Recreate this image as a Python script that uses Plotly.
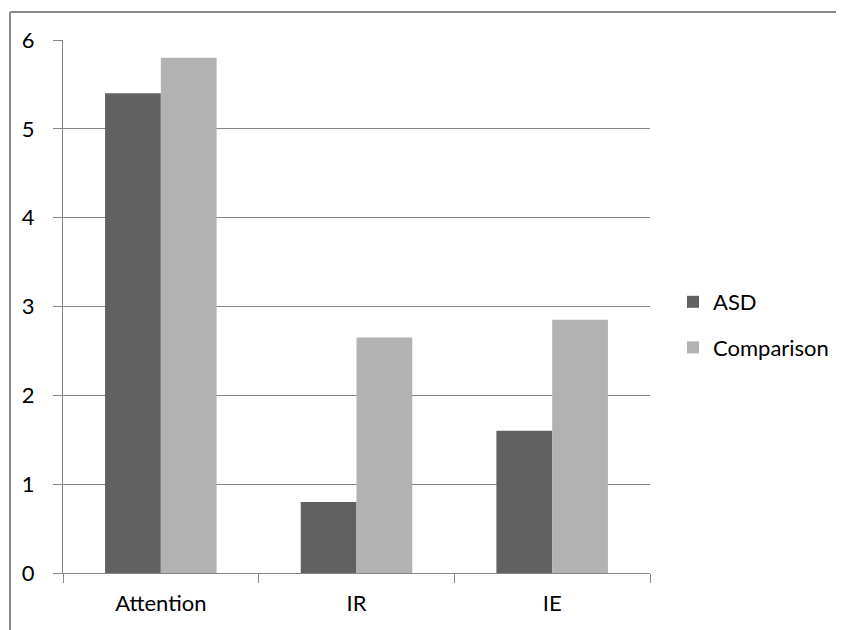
import plotly.graph_objects as go

categories = ["Attention", "IR", "IE"]
asd = [5.4, 0.8, 1.6]
comparison = [5.8, 2.65, 2.85]
y_ticks = [0, 1, 2, 3, 4, 5, 6]

OFF = 8  # default page body margin
W, H = 844 - OFF, 630 - OFF
L, R, T, B = 63 - OFF, 650 - OFF, 40 - OFF, 573 - OFF

def px_x(p):
    return (p - OFF - L) / (R - L)

def px_y(p):
    return (B - (p - OFF)) / (B - T)

font = dict(family="Lato, 'Open Sans', sans-serif", size=22, color="#000000")
grid = "#868686"
border = dict(color="#8a8a8a", width=2)

fig = go.Figure()
fig.add_trace(go.Bar(name="ASD", x=categories, y=asd, legendgroup="a",
                     marker=dict(color="#616161", line=dict(width=0))))
fig.add_trace(go.Bar(name="Comparison", x=categories, y=comparison, legendgroup="b",
                     marker=dict(color="#b2b2b2", line=dict(width=0))))

fig.update_layout(
    width=W, height=H,
    margin=dict(l=L, r=W - R, t=T, b=H - B, pad=0, autoexpand=False),
    paper_bgcolor="white", plot_bgcolor="white",
    barmode="group", bargap=0.43, bargroupgap=0,
    font=font,
    showlegend=True,
    legend=dict(xref="container", yref="container",
                x=(673 - OFF) / W, y=1 - (325 - OFF) / H, xanchor="left", yanchor="middle",
                font=font, bgcolor="rgba(0,0,0,0)", itemsizing="constant",
                traceorder="grouped", tracegroupgap=14),
    shapes=[
        dict(type="line", xref="paper", yref="paper",
             x0=px_x(10), x1=px_x(850), y0=px_y(12), y1=px_y(12), line=border),
        dict(type="line", xref="paper", yref="paper",
             x0=px_x(10), x1=px_x(10), y0=px_y(12), y1=px_y(640), line=border),
    ],
)
fig.update_xaxes(
    type="category", tickson="boundaries", ticks="outside", ticklen=9,
    tickcolor=grid, tickwidth=1.3, showline=True, linecolor=grid, linewidth=1.3,
    showgrid=False, ticklabelstandoff=10, tickfont=font, automargin=False,
)
fig.update_yaxes(
    range=[0, 6], tickvals=y_ticks, ticks="outside", ticklen=9, tickcolor=grid,
    tickwidth=1.3, showline=True, linecolor=grid, linewidth=1.3,
    showgrid=True, gridcolor=grid, gridwidth=1.3, zeroline=False,
    ticklabelstandoff=14, tickfont=font, automargin=False,
)

fig.write_html("out.html")
